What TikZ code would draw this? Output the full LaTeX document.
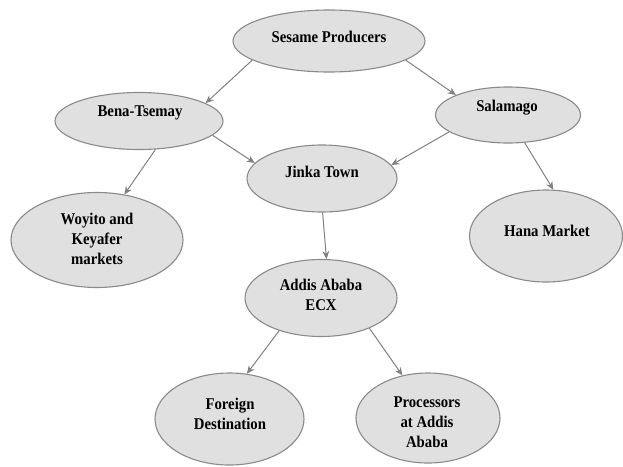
\documentclass[tikz,border=0pt]{standalone}
\usepackage{fontspec}
\setmainfont{Liberation Serif}[FakeStretch=0.9]
\usetikzlibrary{shapes.geometric,arrows.meta}
\definecolor{fillgray}{HTML}{E0E0E0}
\definecolor{edgegray}{HTML}{8A8A8A}
\definecolor{arrowgray}{HTML}{808080}
\tikzset{
  oval/.style={ellipse, draw=edgegray, fill=fillgray, line width=1.1pt, inner sep=0pt},
  lbl/.style={align=center, font=\fontsize{16.4}{20}\selectfont\bfseries, text=black, inner sep=0pt},
  flow/.style={draw=arrowgray, line width=1pt, -{Stealth[length=8pt,width=7pt]}}
}
\begin{document}
\begin{tikzpicture}[x=1pt,y=1pt]
\useasboundingbox (0,0) rectangle (623,-466);
\fill[white] (0,0) rectangle (623,-466);
% ellipses
\node[oval, minimum width=192pt, minimum height=62pt] (sp) at (329,-41) {};
\node[oval, minimum width=168pt, minimum height=57pt] (bt) at (139,-121) {};
\node[oval, minimum width=145pt, minimum height=56pt] (sa) at (508,-115) {};
\node[oval, minimum width=150pt, minimum height=67pt] (jt) at (322,-178.5) {};
\node[oval, minimum width=172pt, minimum height=95pt] (wk) at (97,-240) {};
\node[oval, minimum width=153pt, minimum height=92pt] (hm) at (546,-236) {};
\node[oval, minimum width=152pt, minimum height=77pt] (ae) at (321,-298) {};
\node[oval, minimum width=149pt, minimum height=92pt] (fd) at (229.5,-419) {};
\node[oval, minimum width=144pt, minimum height=90pt] (pa) at (428,-418) {};
% labels
\node[lbl] (tsp) at (329,-37) {Sesame Producers};
\node[lbl] (tbt) at (140,-113) {Bena-Tsemay};
\node[lbl] (tsa) at (507,-108) {Salamago};
\node[lbl] (tjt) at (322,-172) {Jinka Town};
\node[lbl] (twk) at (97,-239) {Woyito and\\Keyafer\\markets};
\node[lbl] (thm) at (547,-231) {Hana Market};
\node[lbl] (tae) at (321,-295) {Addis Ababa\\ECX};
\node[lbl] (tfd) at (230,-414) {Foreign\\Destination};
\node[lbl] (tpa) at (427,-422) {Processors\\at Addis\\Ababa};
% connectors
\draw[flow] (sp.194) -- (bt.15);
\draw[flow] (sp.346) -- (sa.159);
\draw[flow] (bt.-11) -- (jt.167);
\draw[flow] (bt.-60) -- (wk.59);
\draw[flow] (sa.196) -- (jt.11);
\draw[flow] (sa.-59) -- (hm.81);
\draw[flow] (jt.-89) -- (ae.82);
\draw[flow] (ae.218) -- (fd.69);
\draw[flow] (ae.-32) -- (pa.121);
\end{tikzpicture}
\end{document}
